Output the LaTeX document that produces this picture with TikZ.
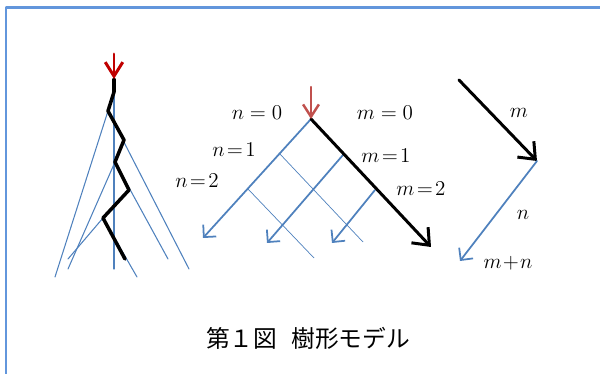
\documentclass[tikz,border=0pt]{standalone}
\usepackage{amsmath}
\usepackage{fontspec}
\newfontfamily\jpfont{Noto Sans CJK JP}
\usetikzlibrary{arrows.meta}
\definecolor{frameblue}{RGB}{98,150,220}
\definecolor{lineblue}{RGB}{79,129,189}
\definecolor{darkred}{RGB}{192,0,0}
\definecolor{softred}{RGB}{192,80,77}

\begin{document}
\begin{tikzpicture}[x=.02cm,y=-.02cm,line cap=round,line join=round,
  barb/.style={-{Straight Barb[length=5pt,width=10pt]}},
  bigbarb/.style={-{Straight Barb[length=8pt,width=13pt]}},
  lab/.style={font=\fontsize{12}{14}\selectfont,inner sep=0pt}]
\useasboundingbox (0,0) rectangle (600,374);
% frame
\coordinate (f0) at (6,390); \coordinate (f1) at (6,7.5); \coordinate (f2) at (620,7.5);
\draw[frameblue,line width=1.3pt,line cap=butt] (f0)--(f1)--(f2);
% tree
\coordinate (rt) at (114,54); \coordinate (top) at (114,79); \coordinate (bot) at (114,269);
\coordinate (z1) at (114,92); \coordinate (A) at (108,111); \coordinate (z2) at (124,140);
\coordinate (B) at (115,162); \coordinate (z3) at (129,190); \coordinate (C) at (103,218);
\coordinate (z4) at (125,259);
\foreach \v/\x/\y [count=\i] in {A/55/277,A/189/269,B/68/269,B/168/259,C/68/259,C/137/277}{
  \coordinate (e\i) at (\x,\y);
  \draw[lineblue,line width=.6pt] (\v)--(e\i);}
\draw[lineblue,line width=.6pt] (top)--(bot);
\draw[line width=2pt] (top)--(z1)--(A)--(z2)--(B)--(z3)--(C)--(z4);
\draw[darkred,line width=1.7pt,-{Straight Barb[length=8pt,width=10pt]}] (rt)--(top);
% lattice
\coordinate (rm) at (311,87); \coordinate (apex) at (311,119);
\coordinate (nA) at (203,238); \coordinate (mA) at (431,247);
\coordinate (m1) at (343,155); \coordinate (m1e) at (267,243);
\coordinate (m2) at (375,190); \coordinate (m2e) at (332,243);
\coordinate (n1) at (279,153); \coordinate (n1e) at (363,242);
\coordinate (n2) at (248,189); \coordinate (n2e) at (314,258);
\draw[lineblue,line width=.4pt] (n1)--(n1e) (n2)--(n2e);
\draw[lineblue,line width=1pt,barb] (apex)--(nA);
\draw[lineblue,line width=1pt,barb] (m1)--(m1e);
\draw[lineblue,line width=1pt,barb] (m2)--(m2e);
\draw[line width=1.7pt,bigbarb] (apex)--(mA);
\draw[softred,line width=1.4pt,-{Straight Barb[length=7pt,width=9pt]}] (rm)--(apex);
\node[lab] (ln0) at (257,113) {$n = 0$};
\node[lab] (lm0) at (385,113) {$m = 0$};
\node[lab] (ln1) at (234,150) {$n\!=\!1$};
\node[lab] (lm1) at (386,156) {$m\!=\!1$};
\node[lab] (ln2) at (197,181) {$n\!=\!2$};
\node[lab] (lm2) at (421,189) {$m\!=\!2$};
% sum
\coordinate (s0) at (459,80); \coordinate (s1) at (537,161); \coordinate (s2) at (460,261);
\draw[line width=1.7pt,bigbarb] (s0)--(s1);
\draw[lineblue,line width=1pt,barb] (s1)--(s2);
\node[lab] (lm) at (519,113) {$m$};
\node[lab] (ln) at (523,215) {$n$};
\node[lab] (lmn) at (508,263) {$m\!+\!n$};
\node[font=\jpfont\fontsize{13.5}{16}\selectfont,inner sep=0pt] (cap) at (308,338) {第１図\hspace{.6em}樹形モデル};
\end{tikzpicture}
\end{document}
